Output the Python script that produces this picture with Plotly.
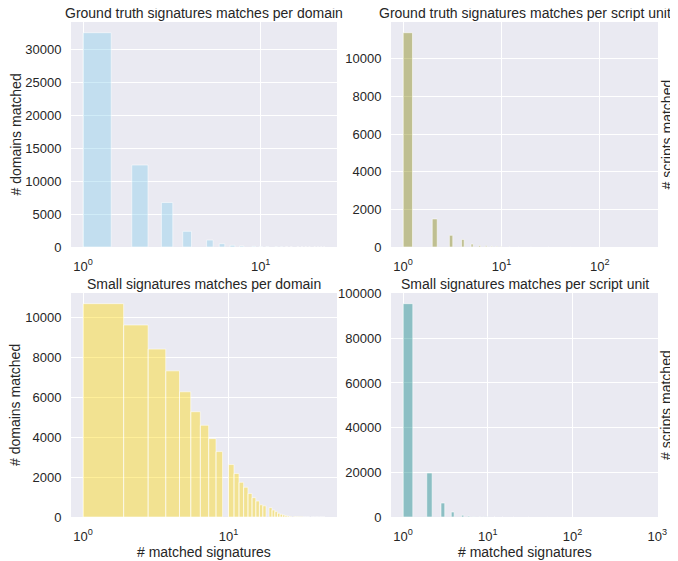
import plotly.graph_objects as go
import math

# ---------------- data (value -> number of items) ----------------
gt_domain_values = list(range(1, 24))
gt_domain_counts = [32550, 12450, 6750, 2380, 1050, 500, 260, 150, 100, 70, 50, 35,
                    25, 20, 15, 10, 8, 6, 4, 3, 2, 1, 1]

gt_script_values = [1, 2, 3, 4, 5, 6, 7, 8, 9, 10, 12, 15, 20, 30, 50, 80, 120, 200, 294]
gt_script_counts = [11380, 1490, 620, 400, 160, 80, 60, 45, 35, 25, 15, 10, 6, 4, 3, 2, 1, 1, 1]

sm_domain_values = list(range(1, 47))
sm_domain_counts = [10700, 9630, 8420, 7330, 6280, 5280, 4600, 3930, 3280, 2630,
                    2180, 1740, 1490, 1180, 970, 800, 610, 560, 470, 350,
                    270, 185, 135, 100, 70, 45, 30, 22, 16, 12,
                    10, 8, 6, 5, 4, 3, 3, 2, 2, 2, 1, 1, 1, 1, 1, 1]

sm_script_values = [1, 2, 3, 4, 5, 6, 7, 8, 9, 10, 12, 15, 20, 30, 50, 100, 200, 400, 734]
sm_script_counts = [95500, 19700, 6260, 2240, 800, 400, 250, 150, 100, 70, 45, 30, 20, 10, 5, 3, 2, 1, 1]

n_bins = {"gt_domain": 50, "gt_script": 1200, "sm_domain": 50, "sm_script": 2443}

titles = ["Ground truth signatures matches per domain",
          "Ground truth signatures matches per script unit",
          "Small signatures matches per domain",
          "Small signatures matches per script unit"]
ylabel_domain = "# domains matched"
ylabel_script = "# scripts matched"
xlabel = "# matched signatures"

# ---------------- helpers ----------------
def hist_polygons(values, counts, nbins):
    lo, hi = min(values), max(values)
    w = (hi - lo) / nbins
    acc = {}
    for v, c in zip(values, counts):
        idx = min(int((v - lo) / w + 1e-9), nbins - 1)
        acc[idx] = acc.get(idx, 0) + c
    xs, ys = [], []
    for idx in sorted(acc):
        x0 = lo + idx * w
        x1 = x0 + w
        c = acc[idx]
        xs += [x0, x0, x1, x1, x0, None]
        ys += [0, c, c, 0, 0, None]
    return xs, ys, lo, hi, max(acc.values())

# page has an 8px body margin: work in window pixels, convert to figure fractions
OFF = 8
W, H = 678 - OFF, 561 - OFF
def fx(px):
    return (px - OFF) / W
def fy(py):
    return (H - (py - OFF)) / H

FONT = "Liberation Sans, Arial, sans-serif"
TXT = "#262626"
TICK_SIZE = 13
LABEL_SIZE = 14
CLEAR = "rgba(0,0,0,0)"

panels = [
    ("gt_domain", gt_domain_values, gt_domain_counts, "rgba(135,206,235,0.4)", 5000,
     (71, 337), (22, 247)),
    ("gt_script", gt_script_values, gt_script_counts, "rgba(128,128,0,0.4)", 2000,
     (391, 658), (22, 247)),
    ("sm_domain", sm_domain_values, sm_domain_counts, "rgba(255,215,0,0.4)", 2000,
     (71, 337), (293, 517)),
    ("sm_script", sm_script_values, sm_script_counts, "rgba(0,128,128,0.4)", 20000,
     (391, 658), (293, 517)),
]

fig = go.Figure()
layout = dict(width=W, height=H, margin=dict(l=0, r=0, t=0, b=0, autoexpand=False),
              paper_bgcolor="white", plot_bgcolor="#EAEAF2",
              showlegend=False, font=dict(family=FONT, color=TXT, size=TICK_SIZE))
annotations = []

for i, (key, vals, cnts, color, dtick, (xl, xr), (yt, yb)) in enumerate(panels):
    n = i + 1
    xs, ys, lo, hi, cmax = hist_polygons(vals, cnts, n_bins[key])
    xname = "x" if n == 1 else f"x{n}"
    yname = "y" if n == 1 else f"y{n}"
    fig.add_trace(go.Scatter(x=xs, y=ys, mode="lines", fill="toself",
                             fillcolor=color, line=dict(color="rgba(255,255,255,0.55)", width=1),
                             xaxis=xname, yaxis=yname, hoverinfo="skip"))
    L = math.log10(hi) - math.log10(lo)
    xr_log = [math.log10(lo) - 0.05 * L, math.log10(hi) + 0.05 * L]
    tv = [10 ** k for k in range(0, 4) if xr_log[0] <= k <= xr_log[1] + 1e-6]
    tt = [f"10<sup>{int(round(math.log10(t)))}</sup>" for t in tv]
    layout[f"xaxis{'' if n == 1 else n}"] = dict(
        domain=[fx(xl), fx(xr)], anchor=yname, type="log", range=xr_log,
        tickmode="array", tickvals=tv, ticktext=tt, showgrid=True, gridcolor="white",
        gridwidth=1, zeroline=False, showline=False, automargin=False,
        ticks="outside", ticklen=7, tickcolor=CLEAR,
        tickfont=dict(family=FONT, size=TICK_SIZE, color=TXT))
    layout[f"yaxis{'' if n == 1 else n}"] = dict(
        domain=[fy(yb), fy(yt)], anchor=xname, range=[0, cmax * 1.05],
        tickmode="linear", tick0=0, dtick=dtick, tickformat="d", showgrid=True,
        gridcolor="white", gridwidth=1, zeroline=False, showline=False,
        automargin=False, ticks="outside", ticklen=6, tickcolor=CLEAR,
        tickfont=dict(family=FONT, size=TICK_SIZE, color=TXT))
    annotations.append(dict(text=titles[i], x=fx((xl + xr) / 2), y=fy(yt + 1),
                            xref="paper", yref="paper", xanchor="center", yanchor="bottom",
                            showarrow=False, font=dict(family=FONT, size=LABEL_SIZE, color=TXT)))

# axis labels
extra = [
    dict(text=ylabel_domain, x=fx(15), y=fy((22 + 247) / 2), textangle=-90),
    dict(text=ylabel_domain, x=fx(15), y=fy((293 + 517) / 2), textangle=-90),
    dict(text=ylabel_script, x=fx(666), y=fy((22 + 247) / 2), textangle=-90),
    dict(text=ylabel_script, x=fx(666), y=fy((293 + 517) / 2), textangle=-90),
    dict(text=xlabel, x=fx((71 + 337) / 2), y=fy(552)),
    dict(text=xlabel, x=fx((391 + 658) / 2), y=fy(552)),
]
for a in extra:
    a.update(xref="paper", yref="paper", xanchor="center", yanchor="middle",
             showarrow=False, font=dict(family=FONT, size=LABEL_SIZE, color=TXT))
annotations += extra

layout["annotations"] = annotations
fig.update_layout(**layout)
fig.write_html("out.html")
